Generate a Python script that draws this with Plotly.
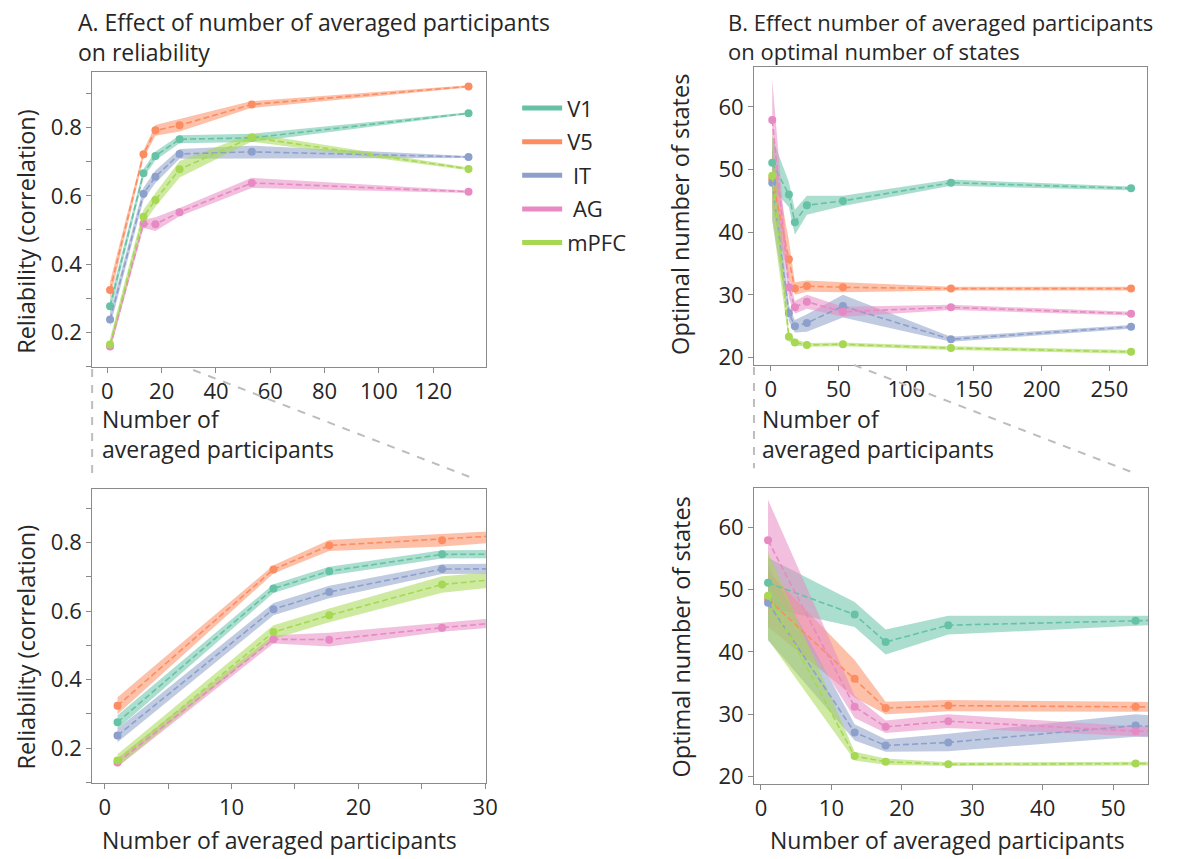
import plotly.graph_objects as go

# Number of averaged participants at each step
n_avg = [1, 13.3, 17.7, 26.6, 53.2, 133, 266]
regions = ["V1", "V5", "IT", "AG", "mPFC"]
labels = ["V1", "V5", "\u00a0IT", "\u00a0AG", "mPFC"]
colors = ["#66c2a5", "#fc8d62", "#8da0cb", "#e78ac3", "#a6d854"]
fills = ["rgba(102,194,165,0.55)", "rgba(252,141,98,0.55)", "rgba(141,160,203,0.55)",
         "rgba(231,138,195,0.55)", "rgba(166,216,84,0.55)"]

# Reliability (mean and half-width of the shaded band), first six steps
rel_mean = {
    "V1":   [0.276, 0.666, 0.717, 0.766, 0.770, 0.842],
    "V5":   [0.324, 0.722, 0.792, 0.807, 0.868, 0.921],
    "IT":   [0.237, 0.606, 0.656, 0.723, 0.729, 0.714],
    "AG":   [0.158, 0.518, 0.517, 0.552, 0.638, 0.612],
    "mPFC": [0.164, 0.539, 0.588, 0.678, 0.771, 0.679],
}
rel_err = {
    "V1":   [0.020, 0.013, 0.013, 0.012, 0.012, 0.003],
    "V5":   [0.025, 0.012, 0.016, 0.018, 0.010, 0.003],
    "IT":   [0.020, 0.018, 0.018, 0.014, 0.018, 0.003],
    "AG":   [0.013, 0.012, 0.020, 0.012, 0.015, 0.004],
    "mPFC": [0.018, 0.020, 0.020, 0.024, 0.012, 0.004],
}

# Optimal number of states (mean and half-width of the shaded band)
st_mean = {
    "V1":   [51.1, 46.0, 41.6, 44.3, 45.0, 47.9, 47.0],
    "V5":   [48.5, 35.7, 31.0, 31.4, 31.2, 31.0, 31.0],
    "IT":   [47.9, 27.1, 25.0, 25.5, 28.2, 22.9, 24.9],
    "AG":   [57.9, 31.2, 28.0, 28.9, 27.3, 28.0, 27.0],
    "mPFC": [49.0, 23.3, 22.4, 22.0, 22.1, 21.5, 20.9],
}
st_err = {
    "V1":   [4.0, 2.0, 2.0, 1.5, 0.8, 0.5, 0.3],
    "V5":   [4.5, 3.0, 1.0, 0.9, 0.8, 0.3, 0.3],
    "IT":   [6.0, 1.3, 1.0, 1.4, 1.8, 0.4, 0.3],
    "AG":   [6.5, 1.8, 1.0, 1.1, 0.8, 0.4, 0.3],
    "mPFC": [7.0, 0.7, 0.5, 0.3, 0.3, 0.3, 0.3],
}

W, H = 1189, 859
FONT = "Open Sans"
TXT = "#262626"
GREY = "#8a8a8a"
TEXT_SIZE = 23
TICK_SIZE = 22


def px_dom_x(a, b):
    return [a / W, b / W]


def px_dom_y(top, bottom):
    return [1 - bottom / H, 1 - top / H]


fig = go.Figure()

panels = [
    # (xaxis, yaxis, mean, err, number of steps)
    ("x", "y", rel_mean, rel_err, 6),
    ("x2", "y2", st_mean, st_err, 7),
    ("x3", "y3", rel_mean, rel_err, 6),
    ("x4", "y4", st_mean, st_err, 7),
]

for xa, ya, mean, err, k in panels:
    xs = n_avg[:k]
    for reg, col, fc in zip(regions, colors, fills):
        m = mean[reg][:k]
        e = err[reg][:k]
        upper = [a + b for a, b in zip(m, e)]
        lower = [a - b for a, b in zip(m, e)]
        fig.add_trace(go.Scatter(
            x=xs + xs[::-1], y=upper + lower[::-1], fill="toself",
            fillcolor=fc, line=dict(width=0), mode="lines",
            hoverinfo="skip", showlegend=False, xaxis=xa, yaxis=ya))
    for reg, col in zip(regions, colors):
        fig.add_trace(go.Scatter(
            x=xs, y=mean[reg][:k], mode="lines+markers",
            line=dict(color=col, width=1.6, dash="6px,3px"),
            marker=dict(color=col, size=8), showlegend=False,
            xaxis=xa, yaxis=ya, cliponaxis=True))

# Legend entries as solid swatches
for lab, col in zip(labels, colors):
    fig.add_trace(go.Scatter(x=[None], y=[None], mode="lines", name=lab,
                             line=dict(color=col, width=5), legendgroup=lab,
                             xaxis="x", yaxis="y"))

common_axis = dict(showline=True, linecolor=GREY, linewidth=1, mirror=True,
                   ticks="outside", ticklen=5, tickcolor=GREY, showgrid=False,
                   zeroline=False, tickfont=dict(family=FONT, size=TICK_SIZE, color=TXT))
minor_y = dict(dtick=0.1, tick0=0.1, ticklen=5, tickcolor=GREY, ticks="outside", showgrid=False)

fig.update_layout(
    width=W, height=H, autosize=False,
    margin=dict(l=0, r=0, t=0, b=0),
    paper_bgcolor="white", plot_bgcolor="white",
    font=dict(family=FONT, color=TXT),
    xaxis=dict(domain=px_dom_x(93, 491), range=[-5.6, 139.6], tickvals=[0, 20, 40, 60, 80, 100, 120],
               anchor="y", **common_axis),
    yaxis=dict(domain=px_dom_y(73, 370), range=[0.098, 0.962], tickvals=[0.2, 0.4, 0.6, 0.8],
               ticktext=["0.2", "0.4", "0.6", "0.8"], minor=minor_y, anchor="x", **common_axis),
    xaxis2=dict(domain=px_dom_x(761, 1158), range=[-12.5, 278], tickvals=[0, 50, 100, 150, 200, 250],
                anchor="y2", **common_axis),
    yaxis2=dict(domain=px_dom_y(68, 368), range=[18.8, 66.3], tickvals=[20, 30, 40, 50, 60],
                anchor="x2", **common_axis),
    xaxis3=dict(domain=px_dom_x(93, 491), range=[-1, 30.1], tickvals=[0, 10, 20, 30],
                minor=dict(dtick=5, tick0=0, ticklen=5, tickcolor=GREY, ticks="outside", showgrid=False),
                anchor="y3", **common_axis),
    yaxis3=dict(domain=px_dom_y(493, 789), range=[0.0995, 0.957], tickvals=[0.2, 0.4, 0.6, 0.8],
                ticktext=["0.2", "0.4", "0.6", "0.8"], minor=minor_y, anchor="x3", **common_axis),
    xaxis4=dict(domain=px_dom_x(761, 1159), range=[-1, 55], tickvals=[0, 10, 20, 30, 40, 50],
                anchor="y4", **common_axis),
    yaxis4=dict(domain=px_dom_y(492, 790), range=[18.9, 66.3], tickvals=[20, 30, 40, 50, 60],
                anchor="x4", **common_axis),
    legend=dict(x=522 / W, y=1 - 88 / H, xanchor="left", yanchor="top",
                font=dict(family=FONT, size=22, color=TXT), traceorder="grouped",
                tracegroupgap=2, bgcolor="rgba(0,0,0,0)", itemwidth=40),
)


def note(text, x, y, size=TEXT_SIZE, angle=0, xanchor="left"):
    fig.add_annotation(text=text, x=x / W, y=1 - y / H, xref="paper", yref="paper",
                       showarrow=False, xanchor=xanchor, yanchor="middle", textangle=angle,
                       font=dict(family=FONT, size=size, color=TXT))


# Panel titles
note("A. Effect of number of averaged participants", 77, 22)
note("on reliability", 77, 52)
note("B. Effect number of averaged participants", 733, 22, size=22)
note("on optimal number of states", 733, 51, size=22)

# Axis titles
note("Reliability (correlation)", 26, 233, size=23.5, angle=-90, xanchor="center")
note("Reliability (correlation)", 26, 652, size=23.5, angle=-90, xanchor="center")
note("Optimal number of states", 687, 216, size=23.5, angle=-90, xanchor="center")
note("Optimal number of states", 687, 642, size=23.5, angle=-90, xanchor="center")
note("Number of", 101, 422)
note("averaged participants", 101, 453)
note("Number of", 767, 422)
note("averaged participants", 767, 453)
note("Number of averaged participants", 282, 847, xanchor="center")
note("Number of averaged participants", 956, 847, xanchor="center")

# Dashed connectors from the overview panels to the zoomed panels
for x0, y0, x1, y1 in [(93, 372, 93, 477), (195, 373, 477, 482),
                       (761, 370, 761, 472), (862, 368, 1145, 477)]:
    fig.add_shape(type="line", xref="paper", yref="paper",
                  x0=x0 / W, y0=1 - y0 / H, x1=x1 / W, y1=1 - y1 / H,
                  line=dict(color="#bdbdbd", width=2, dash="8px,8px"))

fig.write_html("out.html")
